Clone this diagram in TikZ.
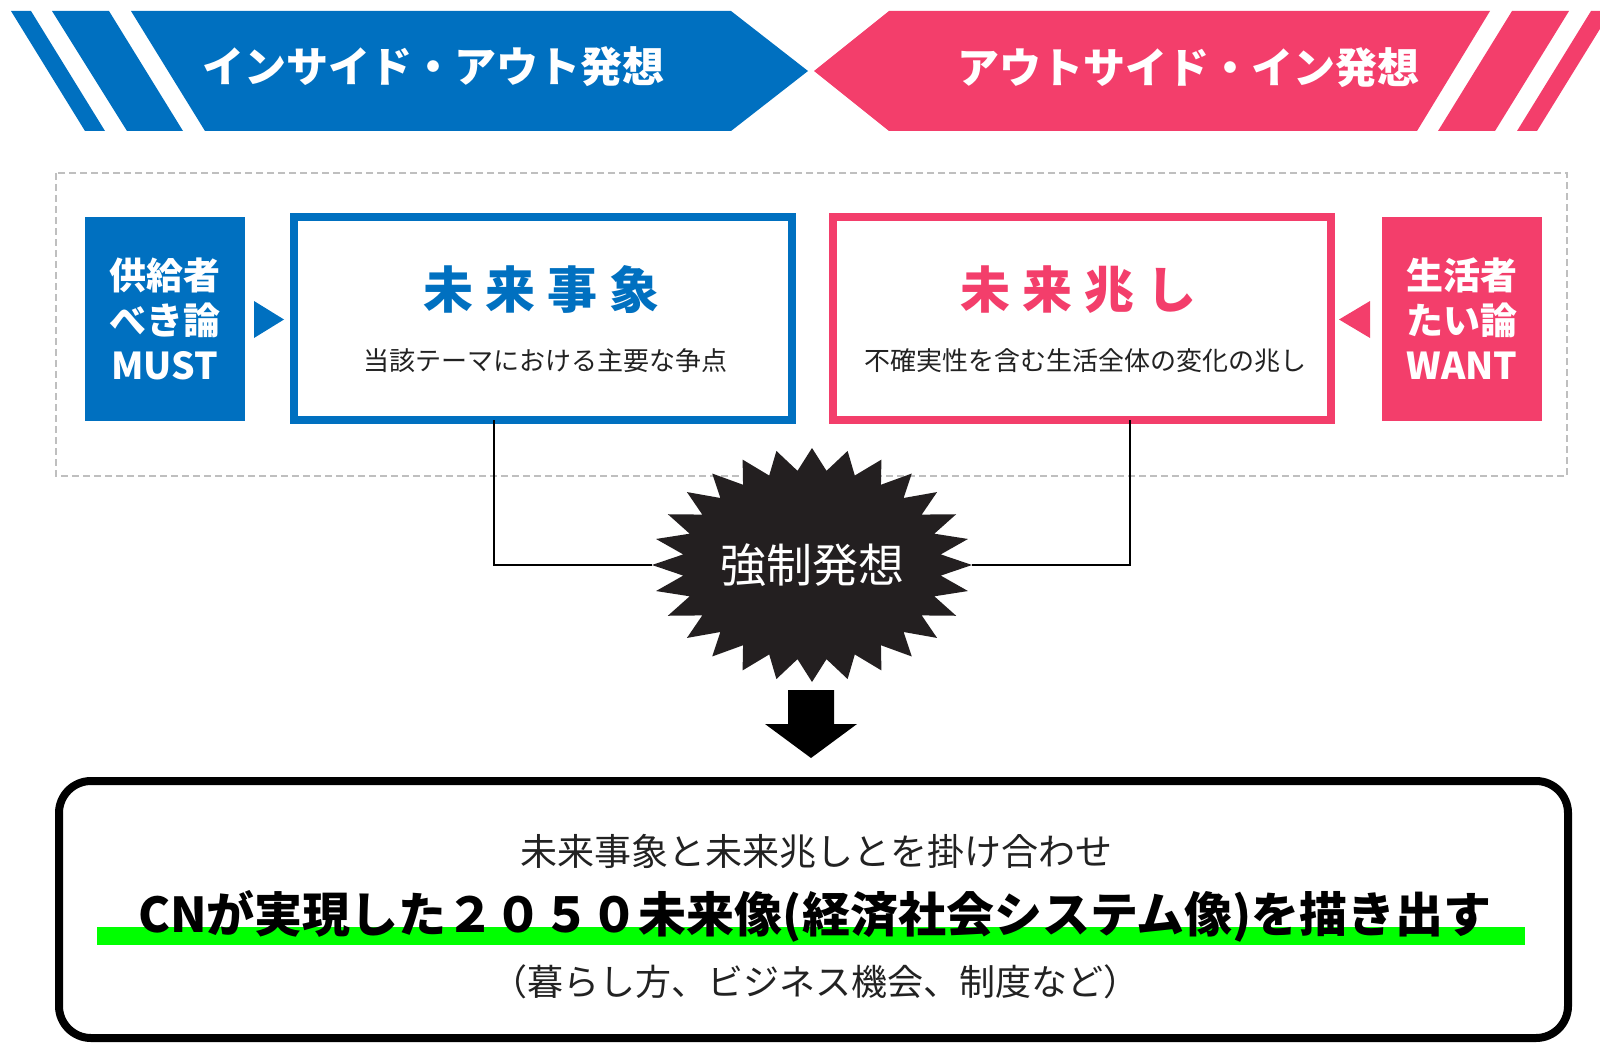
\documentclass[tikz,border=0pt]{standalone}
\usepackage{fontspec}
\setmainfont{Noto Sans CJK JP}
\usetikzlibrary{calc}
\definecolor{cblue}{HTML}{0070C0}
\definecolor{cpink}{HTML}{F33E6B}
\definecolor{cburst}{HTML}{231F20}
\definecolor{cdash}{HTML}{BFBFBF}
\definecolor{cgreen}{HTML}{00FF00}
\definecolor{ctext}{HTML}{222222}
\newcommand\myfs[2]{\fontsize{#1pt}{#2pt}\selectfont}
\begin{document}
\begin{tikzpicture}[x=1pt,y=-1pt,
  sidebox/.style={minimum width=160pt, minimum height=204pt, inner sep=0pt, text=white, font=\bfseries\myfs{37}{45}, align=center},
  framebox/.style={draw, line width=8pt, fill=white, minimum width=498pt, minimum height=203pt, inner sep=0pt, outer sep=0pt},
  bannertext/.style={text=white, font=\bfseries\myfs{42}{42}, inner sep=0pt},
  titletext/.style={font=\bfseries\myfs{50}{50}, inner sep=0pt},
  subtext/.style={text=ctext, font=\myfs{26}{26}, inner sep=0pt},
  conn/.style={line width=2.5pt, black},
  restext/.style={text=ctext, font=\myfs{36}{36}, inner sep=0pt},
]
\useasboundingbox (0,0) rectangle (1600,1043);
\clip (0,0) rectangle (1600,1043);

% banners
\fill[cblue] (11,11) -- (31,11) -- (105,131) -- (85,131) -- cycle;
\fill[cblue] (52,11) -- (109,11) -- (183,131) -- (127,131) -- cycle;
\fill[cblue] (131,11) -- (731,11) -- (808,71) -- (731,131) -- (205,131) -- cycle;
\fill[cpink] (889,11) -- (1490,11) -- (1417,131) -- (889,131) -- (814,71) -- cycle;
\fill[cpink] (1512,11) -- (1569,11) -- (1495,131) -- (1438,131) -- cycle;
\fill[cpink] (1591,11) -- (1611,11) -- (1537,131) -- (1517,131) -- cycle;
\node[bannertext] (bin) at (433,67) {インサイド・アウト発想};
\node[bannertext] (bout) at (1188,68) {アウトサイド・イン発想};

% dashed frame
\draw[cdash, line width=2pt, dash pattern=on 7pt off 4pt] (56,173) rectangle (1567,476);

% side boxes
\node[sidebox, fill=cblue] (must) at (164.5,319) {供給者\\べき論\\MUST};
\node[sidebox, fill=cpink] (want) at (1462,319) {生活者\\たい論\\WANT};
\fill[cblue] (254,301) -- (284,319.5) -- (254,338) -- cycle;
\fill[cpink] (1370,301) -- (1339,319.5) -- (1370,338) -- cycle;

% framed boxes
\node[framebox, draw=cblue] (jishou) at (543,318.5) {};
\node[framebox, draw=cpink] (kizashi) at (1082,318.5) {};
\node[titletext, text=cblue] (jt) at (541,290) {未\hspace{12pt}来\hspace{12pt}事\hspace{12pt}象};
\node[subtext] (js) at (545,361) {当該テーマにおける主要な争点};
\node[titletext, text=cpink] (kt) at (1078,290) {未\hspace{12pt}来\hspace{12pt}兆\hspace{12pt}し};
\node[subtext] (ks) at (1085,361) {不確実性を含む生活全体の変化の兆し};

% burst
\node[minimum width=320pt, minimum height=234pt, inner sep=0pt] (burst) at (812,565) {};
\draw[conn] ([xshift=200pt]jishou.south west) |- (burst.west);
\draw[conn] ([xshift=-201pt]kizashi.south east) |- (burst.east);
\fill[cburst] plot[samples at={0,...,55}, variable=\k]
  ({812+160*(0.905+0.095*cos(180*\k))*cos(90+\k*6.42857)},
   {565-117*(0.905+0.095*cos(180*\k))*sin(90+\k*6.42857)}) -- cycle;
\node[text=white, font=\myfs{46}{46}, inner sep=0pt] (bt) at (burst.center) {強制発想};

% down arrow
\fill[black] (788,690) -- (834,690) -- (834,724) -- (857,724) -- (811,758) -- (765,724) -- (788,724) -- cycle;

% result box
\node[draw=black, line width=8pt, rounded corners=32pt, fill=white, minimum width=1509pt, minimum height=257pt, inner sep=0pt] (result) at (813.5,909.5) {};
\node[restext, font=\myfs{37}{37}] (r1) at (816,851) {未来事象と未来兆しとを掛け合わせ};
\fill[cgreen] (97,927) rectangle (1525,945);
\node[text=black, font=\bfseries\myfs{48}{48}, inner sep=0pt] (r2) at (815,916) {CNが実現した２０５０未来像(経済社会システム像)を描き出す};
\node[restext] (r3) at (815,982) {（暮らし方、ビジネス機会、制度など）};
\end{tikzpicture}
\end{document}
